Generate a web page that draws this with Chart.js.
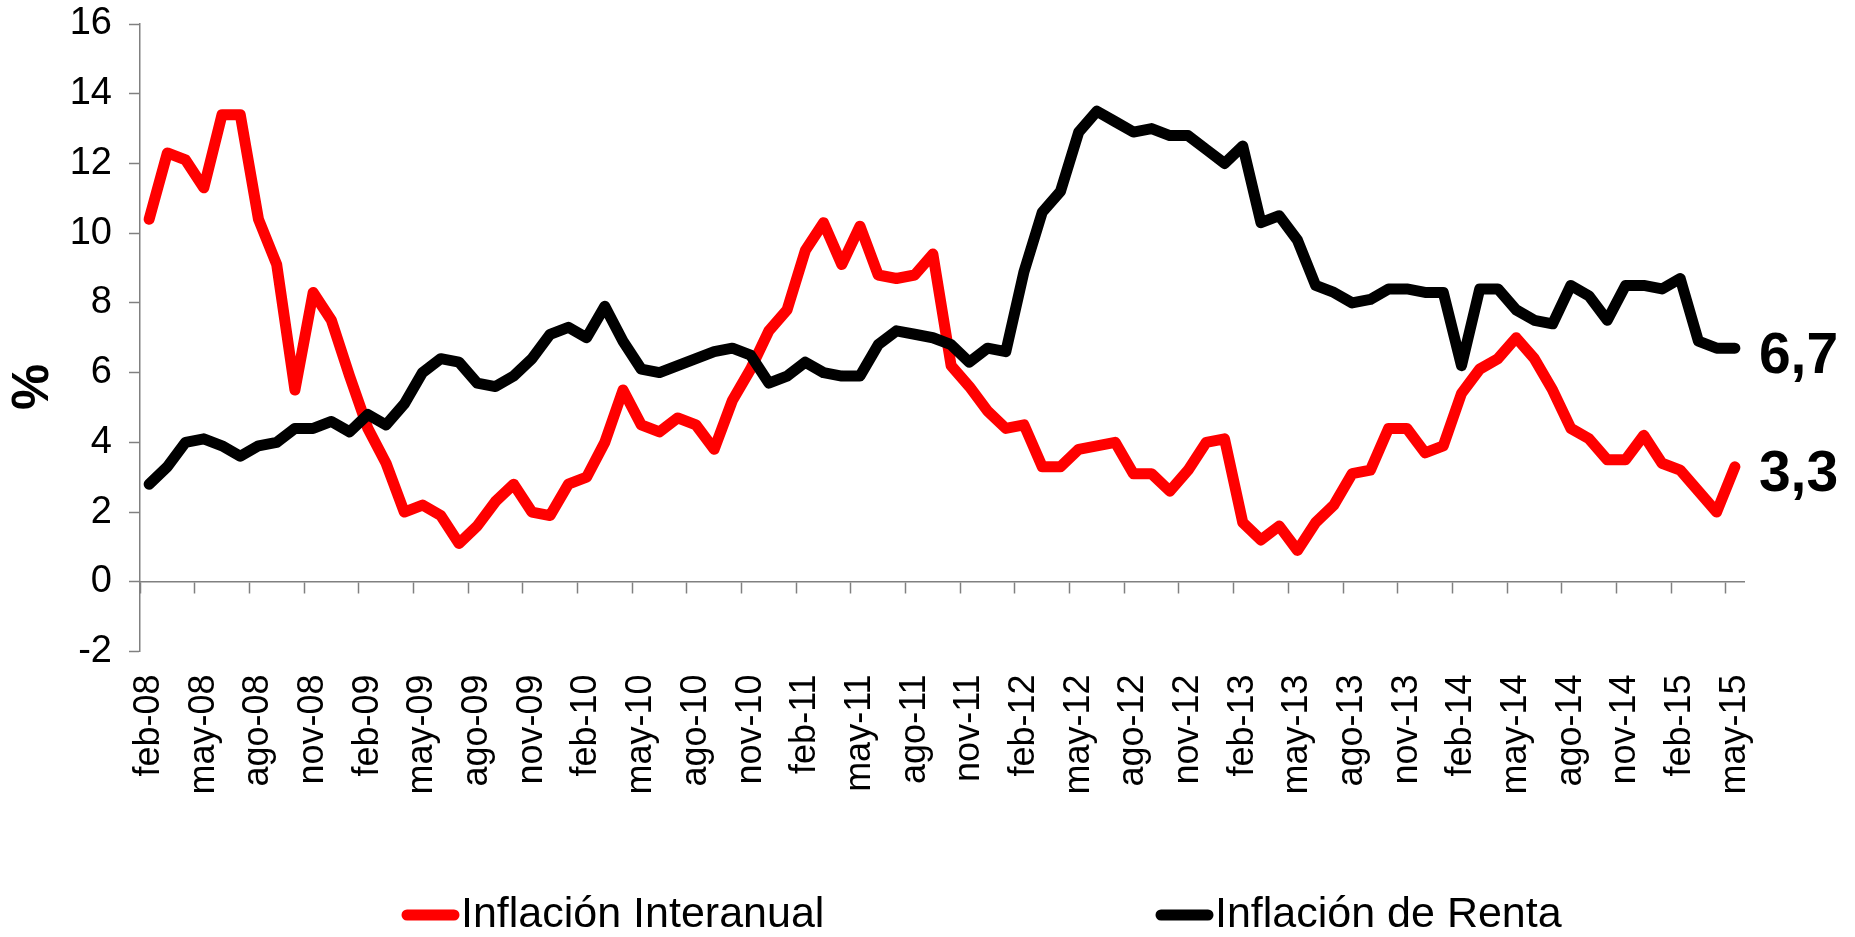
<!DOCTYPE html>
<html lang="es">
<head>
<meta charset="utf-8">
<title>Inflación Interanual / Inflación de Renta</title>
<script src="https://cdn.jsdelivr.net/npm/chart.js@4.4.1/dist/chart.umd.min.js"></script>
<style>
    html, body { margin: 0; padding: 0; background: #fff; }
    #wrap { width: 1855px; height: 937px; }
</style>
</head>
<body>
<div id="wrap"><canvas id="inflacionChart" width="1855" height="937"></canvas></div>
<script>
// Etiquetas de meses (feb-08 .. may-15)
const meses = ['ene', 'feb', 'mar', 'abr', 'may', 'jun', 'jul', 'ago', 'sep', 'oct', 'nov', 'dic'];
const categorias = [];
for (let anio = 2008; anio <= 2015; anio++) {
    for (let m = 0; m < 12; m++) {
        if (anio === 2008 && m < 1) continue;
        if (anio === 2015 && m > 4) break;
        categorias.push(meses[m] + '-' + String(anio).slice(2));
    }
}

// Series (%)
const inflacionInteranual = [
    10.4, 12.3, 12.1, 11.3, 13.4, 13.4, 10.4, 9.1, 5.5, 8.3,
    7.5, 5.9, 4.4, 3.4, 2.0, 2.2, 1.9, 1.1, 1.6, 2.3,
    2.8, 2.0, 1.9, 2.8, 3.0, 4.0, 5.5, 4.5, 4.3, 4.7,
    4.5, 3.8, 5.2, 6.1, 7.2, 7.8, 9.5, 10.3, 9.1, 10.2,
    8.8, 8.7, 8.8, 9.4, 6.2, 5.6, 4.9, 4.4, 4.5, 3.3,
    3.3, 3.8, 3.9, 4.0, 3.1, 3.1, 2.6, 3.2, 4.0, 4.1,
    1.7, 1.2, 1.6, 0.9, 1.7, 2.2, 3.1, 3.2, 4.4, 4.4,
    3.7, 3.9, 5.4, 6.1, 6.4, 7.0, 6.4, 5.5, 4.4, 4.1,
    3.5, 3.5, 4.2, 3.4, 3.2, 2.6, 2.0, 3.3
];
const inflacionRenta = [
    2.8, 3.3, 4.0, 4.1, 3.9, 3.6, 3.9, 4.0, 4.4, 4.4,
    4.6, 4.3, 4.8, 4.5, 5.1, 6.0, 6.4, 6.3, 5.7, 5.6,
    5.9, 6.4, 7.1, 7.3, 7.0, 7.9, 6.9, 6.1, 6.0, 6.2,
    6.4, 6.6, 6.7, 6.5, 5.7, 5.9, 6.3, 6.0, 5.9, 5.9,
    6.8, 7.2, 7.1, 7.0, 6.8, 6.3, 6.7, 6.6, 8.9, 10.6,
    11.2, 12.9, 13.5, 13.2, 12.9, 13.0, 12.8, 12.8, 12.4, 12.0,
    12.5, 10.3, 10.5, 9.8, 8.5, 8.3, 8.0, 8.1, 8.4, 8.4,
    8.3, 8.3, 6.2, 8.4, 8.4, 7.8, 7.5, 7.4, 8.5, 8.2,
    7.5, 8.5, 8.5, 8.4, 8.7, 6.9, 6.7, 6.7
];

const ticksY = [-2, 0, 2, 4, 6, 8, 10, 12, 14, 16];

const FONT = '"Liberation Sans", Arial, sans-serif';
const GRIS = '#808080';

// Título del eje, etiquetas finales y leyenda dibujados a mano
const extras = {
    id: 'extras',
    afterDraw(chart) {
        const ctx = chart.ctx;

        ctx.save();
        ctx.translate(34, 387);
        ctx.rotate(-Math.PI / 2);
        ctx.font = 'bold 52px ' + FONT;
        ctx.fillStyle = '#000';
        ctx.textAlign = 'center';
        ctx.textBaseline = 'middle';
        ctx.fillText('%', 0, 0);
        ctx.restore();

        // último valor de cada serie
        chart.data.datasets.forEach((ds, i) => {
            const meta = chart.getDatasetMeta(i);
            const p = meta.data[meta.data.length - 1];
            const v = ds.data[ds.data.length - 1];
            ctx.save();
            ctx.font = 'bold 57px ' + FONT;
            ctx.fillStyle = '#000';
            ctx.textAlign = 'left';
            ctx.textBaseline = 'middle';
            ctx.fillText(v.toFixed(1).replace('.', ','), p.x + 24, p.y + 9);
            ctx.restore();
        });

        // leyenda
        const inicioX = [402, 1156];
        const yLeyenda = 915;
        chart.data.datasets.forEach((ds, i) => {
            const x0 = inicioX[i];
            ctx.save();
            ctx.strokeStyle = ds.borderColor;
            ctx.lineWidth = 11;
            ctx.lineCap = 'round';
            ctx.beginPath();
            ctx.moveTo(x0 + 5, yLeyenda);
            ctx.lineTo(x0 + 52, yLeyenda);
            ctx.stroke();
            ctx.font = '43px ' + FONT;
            ctx.fillStyle = '#000';
            ctx.textAlign = 'left';
            ctx.textBaseline = 'middle';
            ctx.fillText(ds.label, x0 + 59, yLeyenda);
            ctx.restore();
        });
    }
};

const ctx = document.getElementById('inflacionChart').getContext('2d');
new Chart(ctx, {
    type: 'line',
    data: {
        labels: categorias,
        datasets: [{
            label: 'Inflación Interanual',
            data: inflacionInteranual,
            borderColor: '#ff0000',
            backgroundColor: '#ff0000',
            borderWidth: 11,
            borderCapStyle: 'round',
            borderJoinStyle: 'round',
            pointRadius: 0,
            tension: 0,
            order: 2
        }, {
            label: 'Inflación de Renta',
            data: inflacionRenta,
            borderColor: '#000000',
            backgroundColor: '#000000',
            borderWidth: 11,
            borderCapStyle: 'round',
            borderJoinStyle: 'round',
            pointRadius: 0,
            tension: 0,
            order: 1
        }]
    },
    options: {
        responsive: false,
        devicePixelRatio: 1,
        animation: false,
        layout: {
            padding: { top: 24, right: 111, bottom: 0, left: 0 }
        },
        plugins: {
            legend: { display: false },
            tooltip: { enabled: false }
        },
        scales: {
            x: {
                type: 'category',
                offset: true,
                position: 'bottom',
                border: { display: false },
                grid: { display: false, offset: true },
                ticks: {
                    autoSkip: false,
                    maxRotation: 90,
                    minRotation: 90,
                    padding: 15,
                    color: '#000',
                    font: { family: FONT, size: 36 },
                    callback: function(val, index) {
                        return index % 3 === 0 ? this.getLabelForValue(val) : '';
                    }
                },
                afterFit: function(scale) {
                    scale.height = 285.5;
                    scale.paddingLeft = 0;
                    scale.paddingRight = 0;
                }
            },
            // eje horizontal en el cero con sus marcas
            x2: {
                type: 'category',
                offset: true,
                position: { y: 0 },
                border: { display: true, color: GRIS, width: 1.5 },
                grid: {
                    offset: true,
                    drawOnChartArea: false,
                    drawTicks: true,
                    tickLength: 11,
                    tickWidth: 1.5,
                    tickColor: (c) => (c.index % 3 === 0 && c.index < categorias.length) ? GRIS : 'rgba(0,0,0,0)'
                },
                ticks: { display: false, autoSkip: false }
            },
            y: {
                min: -2,
                max: 16,
                border: { display: true, color: GRIS, width: 1.5 },
                grid: {
                    drawOnChartArea: false,
                    tickLength: 11,
                    tickWidth: 1.5,
                    tickColor: GRIS
                },
                afterBuildTicks: function(scale) {
                    scale.ticks = ticksY.map(v => ({ value: v }));
                },
                ticks: {
                    padding: 17,
                    color: '#000',
                    font: { family: FONT, size: 38 }
                },
                afterFit: function(scale) {
                    scale.width = 140;
                    scale.paddingTop = 0;
                    scale.paddingBottom = 0;
                }
            }
        }
    },
    plugins: [extras]
});
</script>
</body>
</html>
